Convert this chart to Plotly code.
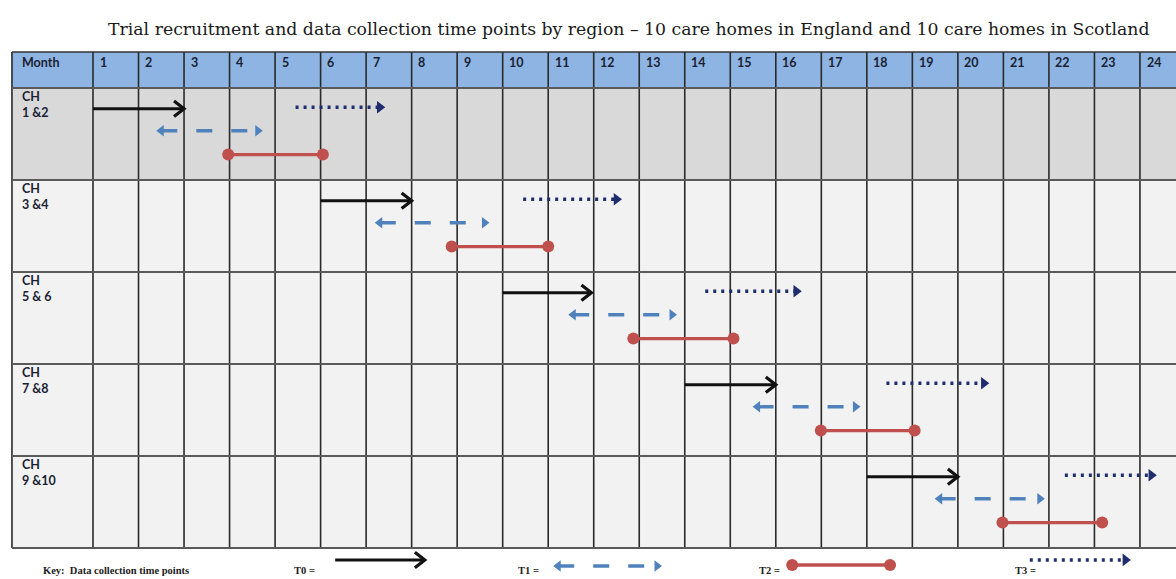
import plotly.graph_objects as go

# ---------------- data ----------------
month_labels = [str(m) for m in range(1, 25)]
row_labels = ["CH<br>1 &2", "CH<br>3 &4", "CH<br>5 & 6", "CH<br>7 &8", "CH<br>9 &10"]

# months elapsed (start / end) for each time point, one value per care-home pair
t0_start = [0.0, 5.0, 9.0, 13.0, 17.0]
t0_end = [2.0, 7.0, 10.95, 15.0, 19.0]
t1_start = [1.5, 6.3, 10.55, 14.6, 18.6]
t1_end = [3.62, 8.6, 12.72, 16.75, 20.8]
t2_start = [2.97, 7.88, 11.87, 15.99, 19.98]
t2_end = [5.05, 10.0, 14.07, 18.05, 22.17]
t3_start = [4.45, 9.45, 13.45, 17.43, 21.35]
t3_end = [6.4, 11.6, 15.55, 19.67, 23.35]

key_labels = ["T0 =", "T1 =", "T2 =", "T3 ="]

# ---------------- styling ----------------
W, H = 1176, 579
HEADER_BLUE = "#8DB4E2"
ROW1_BG = "#D9D9D9"
ROW_BG = "#F2F2F2"
BLACK = "#111111"
BLUE = "#4F81BD"
RED = "#C0504D"
NAVY = "#1F2D6E"

LABEL_LEFT = -1.78
HEADER_TOP = -0.391
N_ROWS = len(row_labels)
N_COLS = len(month_labels)
RIGHT = N_COLS + 0.5

fig = go.Figure()
shapes = []
annotations = []

# backgrounds
shapes.append(dict(type="rect", xref="x", yref="y", x0=LABEL_LEFT, x1=RIGHT,
                   y0=HEADER_TOP, y1=0, fillcolor=HEADER_BLUE, line_width=0, layer="below"))
for r in range(N_ROWS):
    shapes.append(dict(type="rect", xref="x", yref="y", x0=LABEL_LEFT, x1=RIGHT,
                       y0=r, y1=r + 1, fillcolor=ROW1_BG if r == 0 else ROW_BG,
                       line_width=0, layer="below"))

# grid lines
for c in range(0, N_COLS + 1):
    shapes.append(dict(type="line", xref="x", yref="y", x0=c, x1=c, y0=HEADER_TOP, y1=N_ROWS,
                       line=dict(color="#2A2A2A", width=1.6), layer="below"))
shapes.append(dict(type="line", xref="x", yref="y", x0=LABEL_LEFT, x1=LABEL_LEFT,
                   y0=HEADER_TOP, y1=N_ROWS, line=dict(color="#2A2A2A", width=1.6), layer="below"))
shapes.append(dict(type="line", xref="x", yref="y", x0=LABEL_LEFT, x1=RIGHT,
                   y0=HEADER_TOP, y1=HEADER_TOP, line=dict(color="#333333", width=1.6), layer="below"))
for r in range(0, N_ROWS + 1):
    shapes.append(dict(type="line", xref="x", yref="y", x0=LABEL_LEFT, x1=RIGHT, y0=r, y1=r,
                       line=dict(color="#5A5A5A", width=2.2), layer="below"))

# header texts
hdr_font = dict(family="Lato, Open Sans, sans-serif", size=12.5, color="#1A1F33")
annotations.append(dict(x=LABEL_LEFT + 0.17, y=HEADER_TOP + 0.01, xref="x", yref="y",
                        text="<b>Month</b>", showarrow=False, xanchor="left", yanchor="top",
                        font=hdr_font))
for i, lab in enumerate(month_labels):
    annotations.append(dict(x=i + 0.1, y=HEADER_TOP + 0.01, xref="x", yref="y",
                            text="<b>%s</b>" % lab, showarrow=False, xanchor="left",
                            yanchor="top", font=hdr_font))
for r, lab in enumerate(row_labels):
    annotations.append(dict(x=LABEL_LEFT + 0.17, y=r - 0.01, xref="x", yref="y",
                            text="<b>%s</b>" % lab, showarrow=False, xanchor="left",
                            yanchor="top", align="left", font=hdr_font))

# lanes inside each row
LANE = {"t0": 0.226, "t1": 0.465, "t2": 0.724, "t3": 0.209}


def seg_xy(xs, xe, ys):
    X, Y = [], []
    for a, b, y in zip(xs, xe, ys):
        X += [a, b, None]
        Y += [y, y, None]
    return X, Y


def chevrons(xe, ys, dx=0.22, dy=0.085):
    X, Y = [], []
    for b, y in zip(xe, ys):
        X += [b - dx, b, b - dx, None]
        Y += [y - dy, y, y + dy, None]
    return X, Y


def draw_t0(xs, xe, ys):
    X, Y = seg_xy(xs, [e - 0.03 for e in xe], ys)
    fig.add_trace(go.Scatter(x=X, y=Y, mode="lines", line=dict(color=BLACK, width=3.0),
                             hoverinfo="skip"))
    X, Y = chevrons(xe, ys)
    fig.add_trace(go.Scatter(x=X, y=Y, mode="lines", line=dict(color=BLACK, width=3.2),
                             hoverinfo="skip"))


def draw_t1(xs, xe, ys):
    X, Y = seg_xy(xs, xe, ys)
    fig.add_trace(go.Scatter(x=X, y=Y, mode="lines",
                             line=dict(color=BLUE, width=3.4, dash="16px,19px"),
                             hoverinfo="skip"))
    fig.add_trace(go.Scatter(x=xs, y=ys, mode="markers",
                             marker=dict(symbol="triangle-left", size=10, color=BLUE),
                             hoverinfo="skip"))
    fig.add_trace(go.Scatter(x=xe, y=ys, mode="markers",
                             marker=dict(symbol="triangle-right", size=10, color=BLUE),
                             hoverinfo="skip"))


def draw_t2(xs, xe, ys):
    X, Y = seg_xy(xs, xe, ys)
    fig.add_trace(go.Scatter(x=X, y=Y, mode="lines", line=dict(color=RED, width=3.4),
                             hoverinfo="skip"))
    fig.add_trace(go.Scatter(x=list(xs) + list(xe), y=list(ys) + list(ys), mode="markers",
                             marker=dict(symbol="circle", size=12, color=RED),
                             hoverinfo="skip"))


def draw_t3(xs, xe, ys):
    X, Y = seg_xy(xs, [e - 0.15 for e in xe], ys)
    fig.add_trace(go.Scatter(x=X, y=Y, mode="lines",
                             line=dict(color=NAVY, width=3.4, dash="3px,5px"),
                             hoverinfo="skip"))
    fig.add_trace(go.Scatter(x=[e - 0.1 for e in xe], y=ys, mode="markers",
                             marker=dict(symbol="triangle-right", size=11, color=NAVY),
                             hoverinfo="skip"))


rows = list(range(N_ROWS))
draw_t0(t0_start, t0_end, [r + LANE["t0"] for r in rows])
draw_t1(t1_start, t1_end, [r + LANE["t1"] for r in rows])
draw_t2(t2_start, t2_end, [r + LANE["t2"] for r in rows])
draw_t3(t3_start, t3_end, [r + LANE["t3"] for r in rows])

# ---------------- key ----------------
key_text_font = dict(family="Liberation Serif, serif", size=10.5, color="#222222")
KEY_Y = 5.245
annotations.append(dict(x=-1.15, y=KEY_Y, xref="x", yref="y",
                        text="<b>Key:  Data collection time points</b>", showarrow=False,
                        xanchor="left", yanchor="middle", font=key_text_font))
key_text_x = [4.37, 9.3, 14.58, 20.2]
for lab, kx in zip(key_labels, key_text_x):
    annotations.append(dict(x=kx, y=KEY_Y, xref="x", yref="y", text="<b>%s</b>" % lab,
                            showarrow=False, xanchor="left", yanchor="middle",
                            font=key_text_font))
draw_t0([5.32], [7.29], [5.13])
draw_t1([10.22], [12.39], [5.196])
draw_t2([15.36], [17.51], [5.185])
draw_t3([20.58], [22.78], [5.13])

# ---------------- title ----------------
annotations.append(dict(x=628 / W, y=1 - 29 / H, xref="paper", yref="paper",
                        text="Trial recruitment and data collection time points by region \u2013 "
                             "10 care homes in England and 10 care homes in Scotland",
                        showarrow=False, xanchor="center", yanchor="middle",
                        font=dict(family="DejaVu Serif, serif", size=17.3,
                                  color="#1A1A1A")))

fig.update_layout(
    width=W, height=H, autosize=False,
    margin=dict(l=0, r=0, t=0, b=0),
    paper_bgcolor="white", plot_bgcolor="white",
    showlegend=False, hovermode=False,
    shapes=shapes, annotations=annotations,
    xaxis=dict(range=[-93 / 45.52, (W - 93) / 45.52], visible=False, fixedrange=True),
    yaxis=dict(range=[(H - 88) / 92, -88 / 92], visible=False, fixedrange=True),
)

fig.write_html("out.html", config={"displayModeBar": False},
               post_script="document.body.style.margin='0';"
                           "document.body.style.overflow='hidden';")
